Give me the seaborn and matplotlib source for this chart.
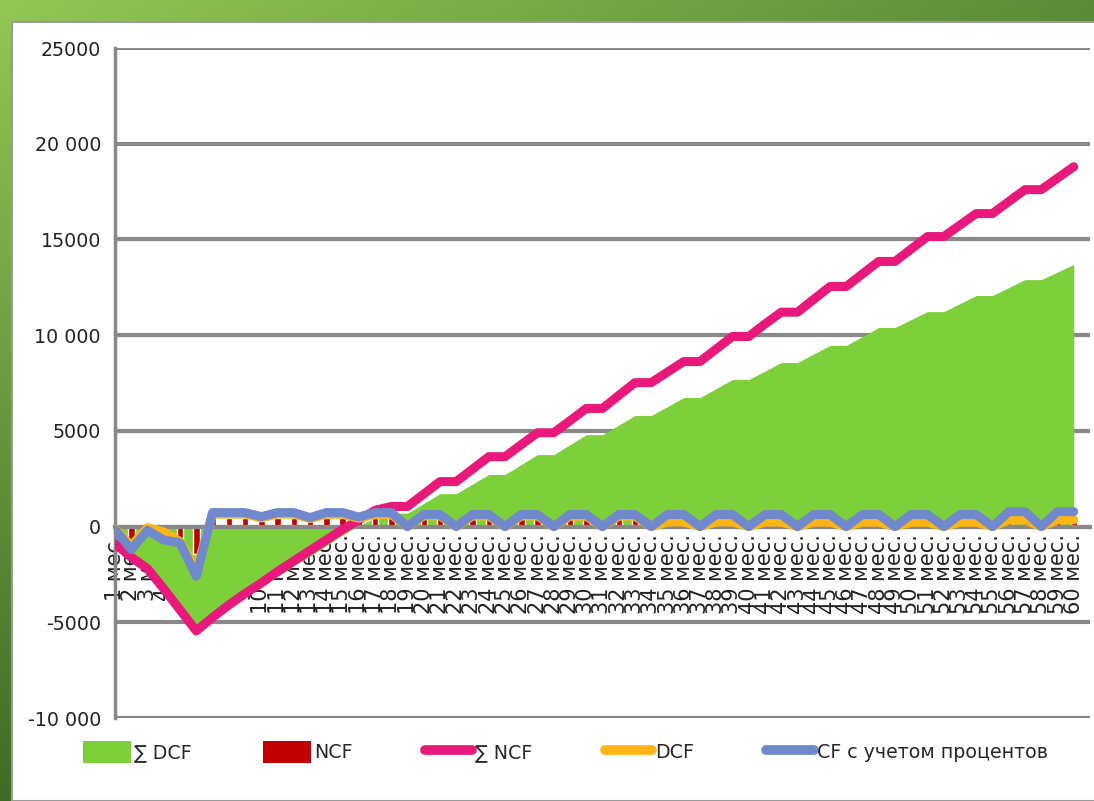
import numpy as np
import pandas as pd
import matplotlib
matplotlib.use("Agg")
import matplotlib.pyplot as plt
import seaborn as sns
from matplotlib.patches import Patch, Rectangle
from matplotlib.lines import Line2D

# ---- data ----
months = list(range(1, 61))
month_labels = [f"{m} мес." for m in months]

sum_dcf = [-800, -1400, -2100, -3150, -4200, -5300,
           -4750, -4200, -3650, -3150, -2600, -2050, -1550, -1000, -450, 50, 450,
           700, 700, 1210, 1720, 1720, 2220, 2720, 2720, 3240, 3760, 3760,
           4280, 4800, 4800, 5300, 5800, 5800, 6270, 6740, 6740, 7210, 7680, 7680,
           8125, 8570, 8570, 9015, 9460, 9460, 9930, 10400, 10400, 10815, 11230, 11230,
           11650, 12070, 12070, 12485, 12900, 12900, 13300, 13690]

ncf = [-300, -800, -150, -250, -900, -1450,
       450, 450, 450, 300, 450, 450, 300, 450, 450, 300, 450, 450,
       0, 450, 450, 0, 450, 450, 0, 450, 450, 0, 450, 450, 0, 450, 450, 0,
       450, 450, 0, 450, 450, 0, 450, 450, 0, 450, 450, 0, 450, 450, 0, 450,
       450, 0, 450, 450, 0, 450, 450, 0, 450, 450]

sum_ncf = [-900, -1600, -2200, -3250, -4350, -5450,
           -4750, -4100, -3500, -2950, -2350, -1800, -1250, -700, -150, 350, 850,
           1050, 1050, 1700, 2350, 2350, 3000, 3650, 3650, 4280, 4900, 4900,
           5530, 6170, 6170, 6850, 7520, 7520, 8070, 8620, 8620, 9280, 9930, 9930,
           10580, 11200, 11200, 11870, 12540, 12540, 13200, 13850, 13850, 14500, 15150, 15150,
           15750, 16350, 16350, 16980, 17600, 17600, 18200, 18800]

dcf = [-120, -1000, -60, -280, -780, -2300,
       650, 650, 650, 460, 650, 650, 420, 640, 640, 440, 630, 630,
       0, 560, 560, 0, 550, 550, 0, 550, 550, 0, 540, 540, 0, 540, 540, 0,
       240, 240, 0, 240, 240, 0, 235, 235, 0, 230, 230, 0, 230, 230, 0, 225,
       225, 0, 225, 225, 0, 340, 340, 0, 350, 350]

cf_interest = [-150, -1200, -200, -700, -850, -2600,
               730, 730, 730, 520, 730, 730, 470, 730, 730, 500, 730, 730,
               0, 630, 630, 0, 630, 630, 0, 630, 630, 0, 630, 630, 0, 630, 630, 0,
               630, 630, 0, 630, 630, 0, 630, 630, 0, 630, 630, 0, 630, 630, 0, 630,
               630, 0, 630, 630, 0, 780, 780, 0, 780, 780]

series_names = ["∑ DCF", "NCF", "∑ NCF", "DCF", "CF с учетом процентов"]
y_ticks = [-10000, -5000, 0, 5000, 10000, 15000, 20000, 25000]
y_tick_labels = ["-10 000", "-5000", "0", "5000", "10 000", "15000", "20 000", "25000"]

colors = {
    "∑ DCF": "#7ED03B",
    "NCF": "#C00000",
    "∑ NCF": "#E8197A",
    "DCF": "#FDB515",
    "CF с учетом процентов": "#7089CC",
}
grid_gray = "#888888"

sns.set_style("white")
plt.rcParams["font.family"] = ["DejaVu Sans"]

W, H = 1094, 801
fig = plt.figure(figsize=(W / 100, H / 100), dpi=100)

# slide background: green gradient with a white panel
bg = fig.add_axes([0, 0, 1, 1], zorder=-1)
bg.axis("off")
gx, gy = np.meshgrid(np.linspace(0, 1, 200), np.linspace(1, 0, 150))
t = np.clip(0.55 * gx + 0.85 * (1 - gy), 0, 1)[..., None]
light = np.array([0.58, 0.78, 0.33])
dark = np.array([0.18, 0.36, 0.12])
bg.imshow(light * (1 - t) + dark * t, extent=[0, 1, 0, 1], aspect="auto")
bg.add_patch(Rectangle((12 / W, 0), 1, 1 - 22 / H, facecolor="white",
                       edgecolor="#9a9a9a", lw=1.5))
bg.set_xlim(0, 1)
bg.set_ylim(0, 1)

ax = fig.add_axes([115 / W, (H - 718) / H, (1090 - 115) / W, (718 - 48) / H])
ax.patch.set_alpha(0)

# area: cumulative DCF
ax.fill_between(months, sum_dcf, 0, color=colors["∑ DCF"], lw=0, zorder=1)

# bars: NCF
sns.barplot(x=months, y=ncf, native_scale=True, color=colors["NCF"], saturation=1,
            width=0.4, errorbar=None, ax=ax, zorder=2)

# lines
line_order = ["∑ NCF", "DCF", "CF с учетом процентов"]
lines_df = pd.DataFrame({
    "month": months * 3,
    "value": sum_ncf + dcf + cf_interest,
    "series": [n for n in line_order for _ in months],
})
sns.lineplot(data=lines_df, x="month", y="value", hue="series", hue_order=line_order,
             palette=colors, linewidth=6.5, legend=False, ax=ax, zorder=4,
             solid_joinstyle="round", solid_capstyle="round")

ax.set_xlim(1, 61)
ax.set_ylim(-10000, 25000)
ax.set_xlabel("")
ax.set_ylabel("")

# spines first: moving a spine resets the ticks
for s in ["top", "right"]:
    ax.spines[s].set_visible(False)
ax.spines["left"].set_color(grid_gray)
ax.spines["left"].set_linewidth(2.5)
ax.spines["bottom"].set_position(("data", 0))
ax.spines["bottom"].set_color(grid_gray)
ax.spines["bottom"].set_linewidth(3)

ax.set_yticks(y_ticks)
ax.set_yticklabels(y_tick_labels)
ax.set_xticks(months + [61])
ax.set_xticklabels(month_labels + [""])

ax.tick_params(axis="y", direction="out", length=8, width=3, color=grid_gray, pad=2,
               labelsize=13.7, labelcolor="#222222")
ax.tick_params(axis="x", direction="out", length=4.5, width=2, color=grid_gray, pad=1,
               labelsize=15, labelcolor="#222222", labelrotation=90)
for lab in ax.get_xticklabels():
    lab.set_va("top")
    lab.set_ha("center")

ax.set_axisbelow(True)
ax.yaxis.grid(True, color=grid_gray, lw=3)
ax.xaxis.grid(False)

handles = [
    Patch(facecolor=colors["∑ DCF"], edgecolor="none"),
    Patch(facecolor=colors["NCF"], edgecolor="none"),
    Line2D([0], [0], color=colors["∑ NCF"], lw=7, solid_capstyle="round"),
    Line2D([0], [0], color=colors["DCF"], lw=7, solid_capstyle="round"),
    Line2D([0], [0], color=colors["CF с учетом процентов"], lw=7, solid_capstyle="round"),
]
fig.legend(handles, series_names, loc="center left", bbox_to_anchor=(66 / W, 1 - 752 / H),
           ncol=5, frameon=False, fontsize=13.7, handlelength=2.5, handleheight=1.4,
           handletextpad=0.15, columnspacing=3.8)

fig.savefig("out.png", dpi=100)
